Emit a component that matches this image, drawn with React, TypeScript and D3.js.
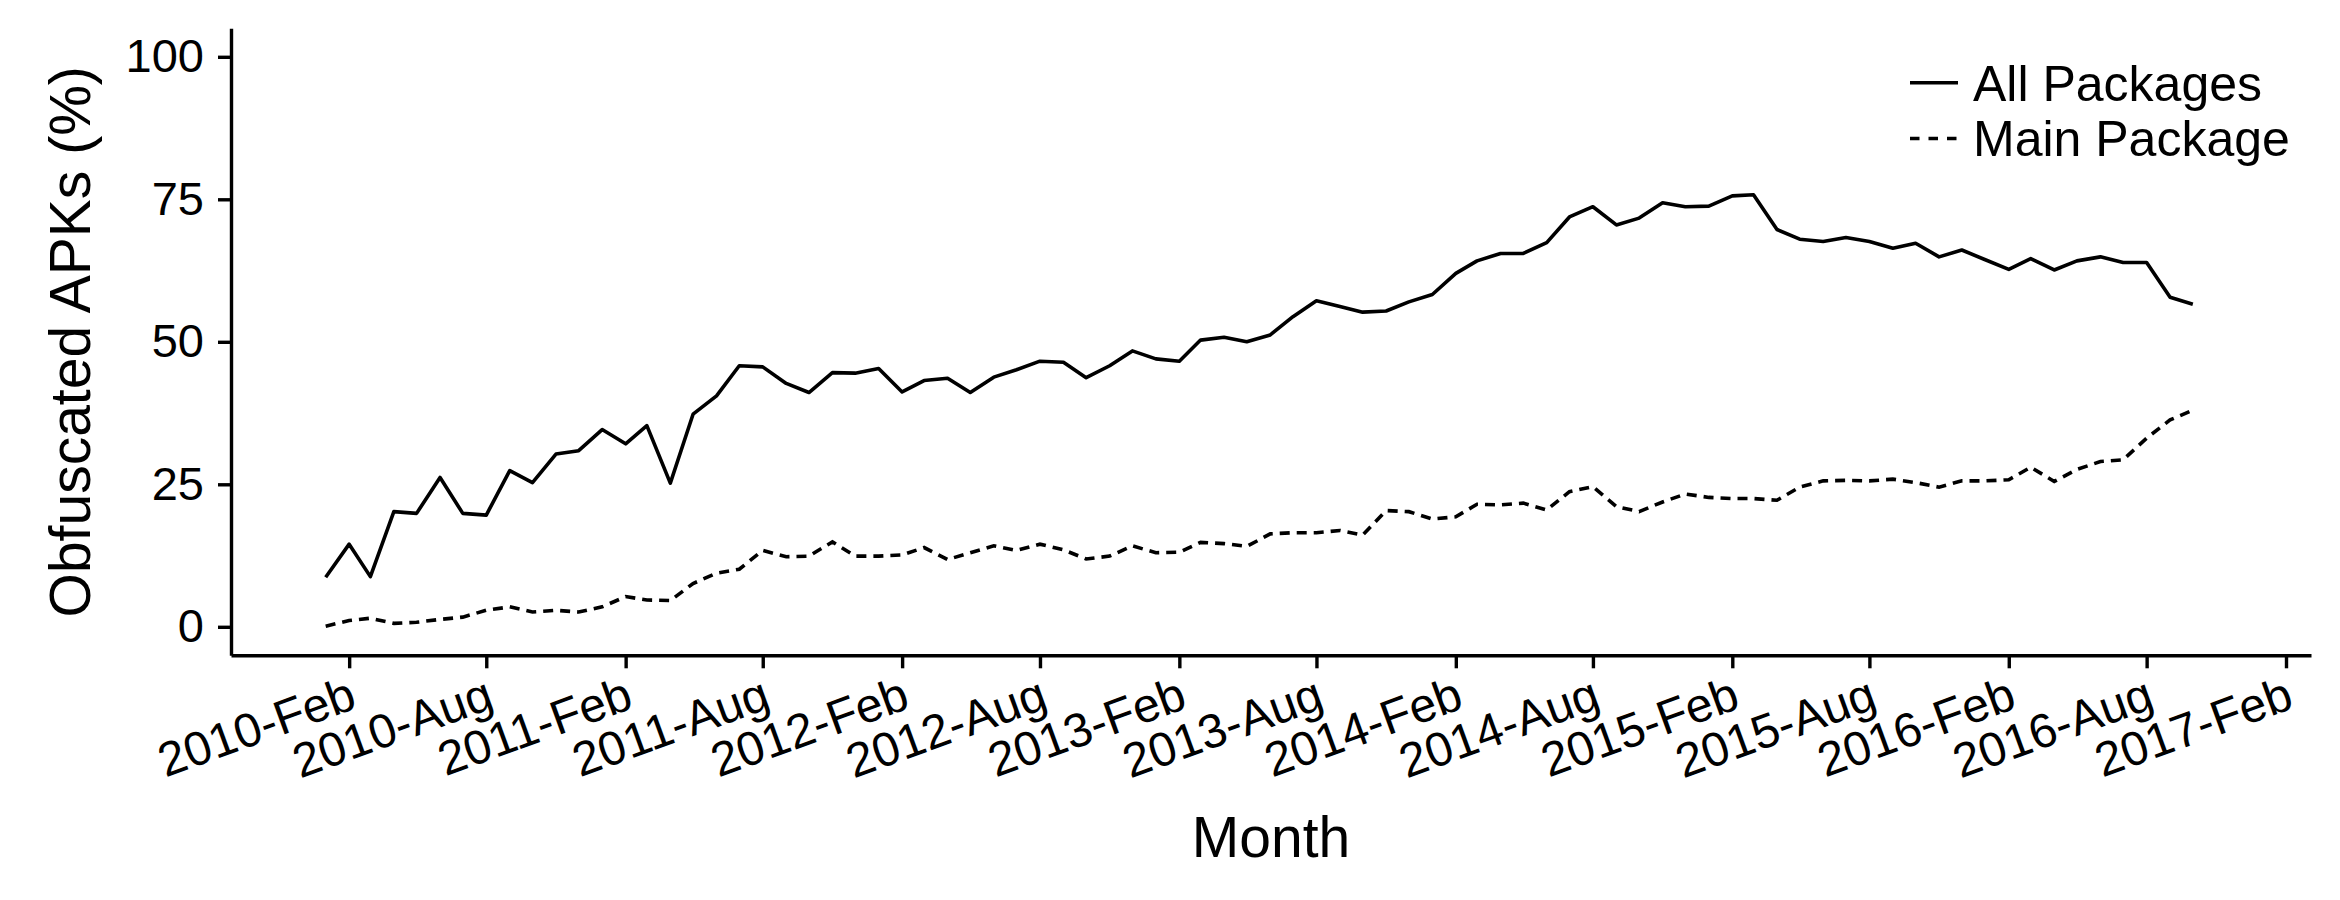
import React, { useEffect, useRef } from 'react';
import * as d3 from 'd3';

// one point per month, Jan 2010 .. Oct 2016
const months = d3.timeMonth.range(new Date(2010, 0, 1), new Date(2016, 10, 1));

const allPackages = [
  8.7, 14.5, 8.8, 20.2, 19.9, 26.2, 19.9, 19.6, 27.4, 25.3, 30.3, 30.9,
  34.6, 32.1, 35.3, 25.2, 37.3, 40.5, 45.8, 45.6, 42.7, 41.1, 44.6, 44.5,
  45.3, 41.2, 43.2, 43.6, 41.1, 43.8, 45.1, 46.6, 46.4, 43.7, 45.8, 48.4,
  47.0, 46.6, 50.3, 50.8, 50.0, 51.2, 54.4, 57.2, 56.2, 55.2, 55.4, 57.0,
  58.3, 62.0, 64.2, 65.5, 65.5, 67.4, 71.9, 73.7, 70.5, 71.7, 74.4, 73.7,
  73.8, 75.6, 75.8, 69.7, 68.0, 67.6, 68.3, 67.6, 66.4, 67.3, 64.9, 66.1,
  64.4, 62.7, 64.6, 62.6, 64.2, 64.9, 63.9, 63.9, 57.8, 56.6
];

const mainPackage = [
  0.1, 1.1, 1.5, 0.6, 0.8, 1.3, 1.7, 2.9, 3.5, 2.6, 2.9, 2.6,
  3.5, 5.3, 4.7, 4.6, 7.6, 9.4, 10.1, 13.4, 12.3, 12.4, 14.9, 12.4,
  12.4, 12.6, 13.9, 11.8, 13.0, 14.2, 13.4, 14.5, 13.5, 11.9, 12.4, 14.2,
  13.0, 13.1, 14.8, 14.6, 14.1, 16.3, 16.5, 16.5, 16.9, 16.1, 20.4, 20.2,
  18.9, 19.3, 21.5, 21.4, 21.7, 20.5, 23.7, 24.6, 21.1, 20.2, 21.9, 23.3,
  22.7, 22.5, 22.5, 22.2, 24.5, 25.6, 25.7, 25.6, 25.9, 25.3, 24.5, 25.6,
  25.6, 25.8, 28.0, 25.5, 27.6, 29.0, 29.3, 33.1, 36.3, 38.0
];

const xTickLabels = [
  '2010-Feb', '2010-Aug', '2011-Feb', '2011-Aug', '2012-Feb', '2012-Aug',
  '2013-Feb', '2013-Aug', '2014-Feb', '2014-Aug', '2015-Feb', '2015-Aug',
  '2016-Feb', '2016-Aug', '2017-Feb'
];
const yTicks = [0, 25, 50, 75, 100];

const seriesNames = ['All Packages', 'Main Package'];

const FONT = '"Liberation Sans", Arial, Helvetica, sans-serif';

const App = () => {
  const svgRef = useRef(null);

  useEffect(() => {
    const width = 2340;
    const height = 900;
    const svg = d3.select(svgRef.current)
      .attr('width', width)
      .attr('height', height);
    svg.selectAll('*').remove();

    const x = d3.scaleTime()
      .domain([new Date(2009, 7, 29), new Date(2017, 2, 6)])
      .range([231, 2311]);

    const y = d3.scaleLinear()
      .domain([-5, 105])
      .range([655.3, 28.3]);

    const parseTick = d3.timeParse('%Y-%b');
    const tickDates = xTickLabels.map(s => parseTick(s));

    // x axis, labels tilted 20 degrees and hung from the tick
    const xAxis = svg.append('g')
      .attr('transform', `translate(0,${y(-5)})`)
      .call(d3.axisBottom(x)
        .tickValues(tickDates)
        .tickFormat(d3.timeFormat('%Y-%b'))
        .tickSize(13)
        .tickSizeOuter(0));
    xAxis.selectAll('.domain').attr('stroke', '#000').attr('stroke-width', 3.4);
    xAxis.selectAll('.tick line').attr('stroke', '#000').attr('stroke-width', 3.4);
    xAxis.selectAll('.tick text')
      .attr('fill', '#000')
      .style('font-family', FONT)
      .style('font-size', '48px')
      .attr('text-anchor', 'end')
      .attr('y', 0)
      .attr('dy', 0)
      .attr('transform', 'translate(9,52) rotate(-20)');

    // y axis
    const yAxis = svg.append('g')
      .attr('transform', `translate(${x.range()[0]},0)`)
      .call(d3.axisLeft(y)
        .tickValues(yTicks)
        .tickSize(13)
        .tickPadding(14)
        .tickSizeOuter(0));
    yAxis.selectAll('.domain').attr('stroke', '#000').attr('stroke-width', 3.4);
    yAxis.selectAll('.tick line').attr('stroke', '#000').attr('stroke-width', 3.4);
    yAxis.selectAll('.tick text')
      .attr('fill', '#000')
      .style('font-family', FONT)
      .style('font-size', '47px');

    const line = d3.line()
      .x((d, i) => x(months[i]))
      .y(d => y(d));

    svg.append('path')
      .datum(allPackages)
      .attr('fill', 'none')
      .attr('stroke', '#000')
      .attr('stroke-width', 3.6)
      .attr('stroke-linejoin', 'round')
      .attr('d', line);

    svg.append('path')
      .datum(mainPackage)
      .attr('fill', 'none')
      .attr('stroke', '#000')
      .attr('stroke-width', 3.6)
      .attr('stroke-dasharray', '10,7')
      .attr('d', line);

    // axis titles
    svg.append('text')
      .attr('x', (x.range()[0] + x.range()[1]) / 2)
      .attr('y', 857)
      .attr('text-anchor', 'middle')
      .style('font-family', FONT)
      .style('font-size', '57px')
      .text('Month');

    svg.append('text')
      .attr('transform', `translate(90,${(y(0) + y(100)) / 2}) rotate(-90)`)
      .attr('text-anchor', 'middle')
      .style('font-family', FONT)
      .style('font-size', '57px')
      .text('Obfuscated APKs (%)');

    // legend
    const legend = svg.append('g').attr('transform', 'translate(1910,0)');
    const rows = [82.7, 138.5];
    seriesNames.forEach((name, i) => {
      legend.append('line')
        .attr('x1', 0)
        .attr('x2', 48)
        .attr('y1', rows[i])
        .attr('y2', rows[i])
        .attr('stroke', '#000')
        .attr('stroke-width', 3.6)
        .attr('stroke-dasharray', i === 1 ? '9.5,9' : null);
      legend.append('text')
        .attr('x', 63)
        .attr('y', rows[i] + 17.8)
        .style('font-family', FONT)
        .style('font-size', '50px')
        .text(name);
    });
  }, []);

  return (
    <div style={{ width: 2340, height: 900, background: '#fff' }}>
      <style>{'body { margin: 0; }'}</style>
      <svg ref={svgRef} style={{ display: 'block' }}></svg>
    </div>
  );
};

export default App;
